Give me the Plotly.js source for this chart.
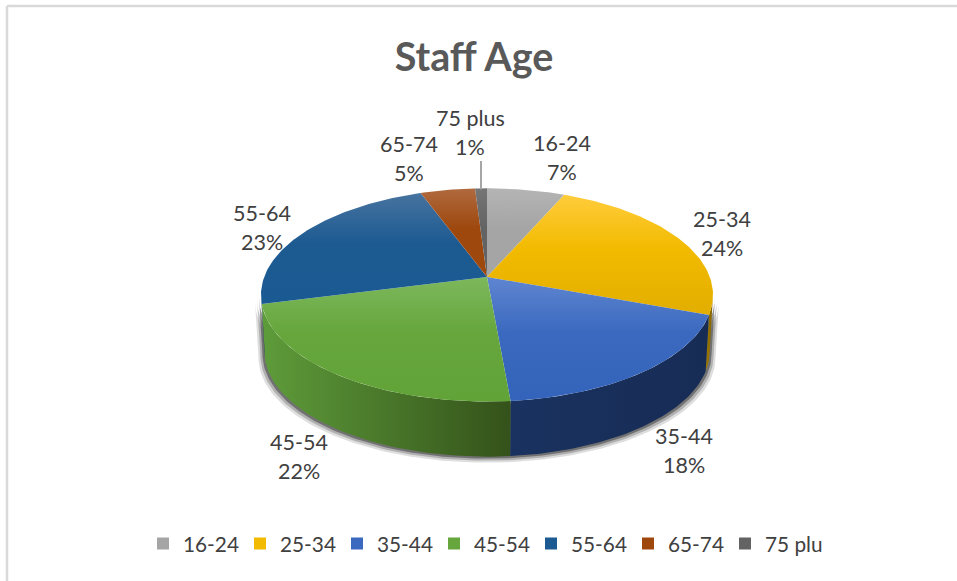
<!DOCTYPE html>
<html>
<head>
<meta charset="utf-8">
<script src="https://cdn.plot.ly/plotly-3.0.1.min.js"></script>
<style>
html, body { margin: 0; padding: 0; background: #fff; }
#chart { width: 957px; height: 581px; }
</style>
</head>
<body>
<div id="chart"></div>
<script>
const categories = ['16-24', '25-34', '35-44', '45-54', '55-64', '65-74', '75 plus'];
const shares = [6.55, 24.05, 18, 22.4, 23.4, 4.6, 1];

const baseColors = ['#a5a5a5', '#f2bb00', '#3b69bf', '#66a63d', '#1d5a92', '#9e480e', '#636363'];
const topColors = ['#b4b4b4', '#ffcc3c', '#5f85d0', '#7db85c', '#47739f', '#b06a3e', '#757575'];
const bottomColors = ['#a5a5a5', '#e2ae00', '#3363ba', '#62a338', '#1a5a92', '#9e480e', '#636363'];
const wallLeftColors = ['#6e6e6e', '#a07c00', '#1a3260', '#5e9c3a', '#133a5e', '#6a300a', '#444444'];
const wallRightColors = ['#5a5a5a', '#7f6000', '#172c55', '#34521a', '#133a5e', '#6a300a', '#444444'];

// label anchors in pixels, one per category
const labelX = [562, 722, 684, 299, 262, 409, 470];
const labelY = [157, 233, 450, 456, 227, 158, 132];

// pie geometry in pixels (the axes below run 1:1 with the page)
const cx = 487, cy = 277, rx = 222.8, ry = 103.6, tilt = 0.168;
const depth = 57, bottomScale = 0.985;
const wallFrom = 99.7, wallTo = 260.3;

function rimPoint(deg) {
    const a = deg * Math.PI / 180;
    const w = 1 + tilt * Math.cos(a);
    return [rx * Math.sin(a) / w, ry * Math.cos(a) / w];
}

function topXY(deg) {
    const p = rimPoint(deg);
    return [cx + p[0], cy - p[1]];
}

function baseXY(deg) {
    const p = rimPoint(deg);
    return [cx + p[0] * bottomScale, cy - p[1] * bottomScale + depth];
}

function arc(from, to, fn) {
    const pts = [];
    const steps = Math.max(2, Math.ceil(Math.abs(to - from)));
    for (let i = 0; i <= steps; i++) pts.push(fn(from + (to - from) * i / steps));
    return pts;
}

const total = shares.reduce((a, b) => a + b, 0);
let running = 0;
const angles = shares.map(v => {
    const start = running / total * 360;
    running += v;
    return [start, running / total * 360];
});

const traces = [];

// soft shadow under the wall
[[6, 'rgba(90,90,90,0.2)'], [4, 'rgba(70,70,70,0.3)'], [2, 'rgba(50,50,50,0.5)']].forEach(s => {
    const pts = arc(wallFrom, wallTo, baseXY).concat(arc(wallTo, wallFrom, topXY));
    traces.push({
        x: pts.map(p => cx + (p[0] - cx) * (1 + s[0] / 226)),
        y: pts.map(p => p[1] + s[0]),
        mode: 'lines', fill: 'toself', fillcolor: s[1],
        line: { width: 0 }, showlegend: false, hoverinfo: 'skip'
    });
});

// outer walls, only the part that faces the viewer
categories.forEach((name, i) => {
    const from = Math.max(angles[i][0], wallFrom);
    const to = Math.min(angles[i][1], wallTo);
    if (to <= from) return;
    const pts = arc(from, to, topXY).concat(arc(to, from, baseXY));
    pts.push(pts[0]);
    const xs = pts.map(p => p[0]);
    traces.push({
        x: xs,
        y: pts.map(p => p[1]),
        mode: 'lines', fill: 'toself',
        fillgradient: {
            type: 'horizontal',
            start: Math.min(...xs), stop: Math.max(...xs),
            colorscale: [[0, wallLeftColors[i]], [1, wallRightColors[i]]]
        },
        line: { width: 0 }, showlegend: false, hoverinfo: 'skip'
    });
});

// top faces
categories.forEach((name, i) => {
    const pts = [[cx, cy]].concat(arc(angles[i][0], angles[i][1], topXY));
    pts.push([cx, cy]);
    const ys = pts.map(p => p[1]);
    traces.push({
        x: pts.map(p => p[0]),
        y: ys,
        mode: 'lines', fill: 'toself',
        fillgradient: {
            type: 'vertical',
            start: Math.min(...ys), stop: Math.max(...ys),
            colorscale: [[0, topColors[i]], [0.45, baseColors[i]], [1, bottomColors[i]]]
        },
        line: { width: 0 }, showlegend: false, hoverinfo: 'skip'
    });
});

// leader line for the smallest slice
const lastMid = topXY((angles[6][0] + angles[6][1]) / 2);
traces.push({
    x: [lastMid[0], lastMid[0]],
    y: [lastMid[1] + 1, 161],
    mode: 'lines', line: { color: '#a6a6a6', width: 2 },
    showlegend: false, hoverinfo: 'skip'
});

// legend entries
categories.forEach((name, i) => {
    traces.push({
        x: [null], y: [null], name: name,
        mode: 'markers',
        marker: { symbol: 'square', size: 12, color: baseColors[i] },
        hoverinfo: 'skip'
    });
});

const labelFont = { family: 'Lato, sans-serif', size: 21.5, color: '#404040' };
const annotations = [];
categories.forEach((name, i) => {
    const pct = Math.round(shares[i] / total * 100) + '%';
    [[name, -14.5], [pct, 14.5]].forEach(line => {
        annotations.push({
            x: labelX[i], y: labelY[i] + line[1], xref: 'x', yref: 'y',
            text: line[0],
            showarrow: false, xanchor: 'center', yanchor: 'middle',
            font: labelFont
        });
    });
});

const layout = {
    width: 957,
    height: 581,
    margin: { l: 0, r: 0, t: 0, b: 0 },
    paper_bgcolor: '#ffffff',
    plot_bgcolor: '#ffffff',
    font: { family: 'Lato, sans-serif', color: '#404040' },
    title: {
        text: '<b>Staff Age</b>',
        font: { family: 'Lato, sans-serif', size: 39.5, color: '#595959' },
        x: 474 / 957, xanchor: 'center', xref: 'paper',
        y: 1 - 57 / 581, yanchor: 'middle', yref: 'container'
    },
    xaxis: { range: [0, 957], visible: false, fixedrange: true },
    yaxis: { range: [581, 0], visible: false, fixedrange: true },
    showlegend: true,
    legend: {
        orientation: 'h',
        x: 143 / 957, xanchor: 'left',
        y: 1 - 544 / 581, yanchor: 'middle',
        entrywidth: 52, entrywidthmode: 'pixels',
        itemwidth: 30,
        font: { family: 'Lato, sans-serif', size: 20.8, color: '#404040' },
        bgcolor: 'rgba(0,0,0,0)'
    },
    annotations: annotations,
    shapes: [
        { type: 'line', xref: 'paper', yref: 'paper', x0: 7 / 957, x1: 1, y0: 1 - 6 / 581, y1: 1 - 6 / 581, line: { color: '#d9d9d9', width: 2.5 } },
        { type: 'line', xref: 'paper', yref: 'paper', x0: 7 / 957, x1: 7 / 957, y0: 0, y1: 1 - 6 / 581, line: { color: '#d9d9d9', width: 2.5 } }
    ]
};

Plotly.newPlot('chart', traces, layout, { displayModeBar: false, staticPlot: true });
</script>
</body>
</html>
